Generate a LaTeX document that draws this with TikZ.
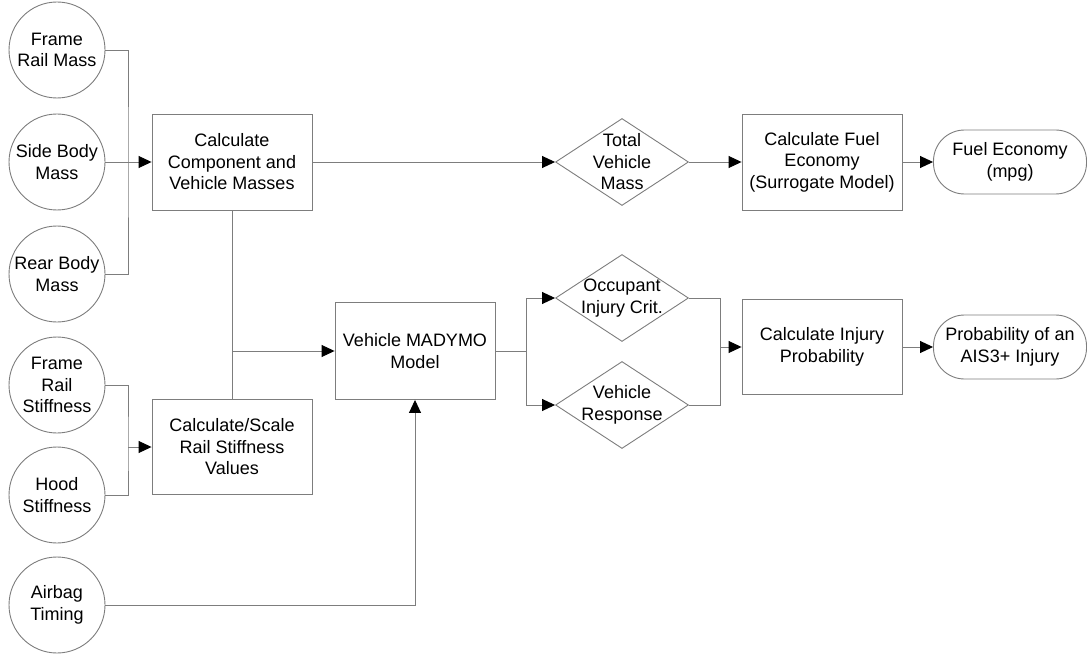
\documentclass[tikz,border=0pt]{standalone}
\usepackage{fontspec}
\setmainfont{Liberation Sans}
\usepackage{tikz}
\usetikzlibrary{arrows.meta,positioning,shapes.geometric}
\definecolor{edgegray}{RGB}{125,125,125}

\begin{document}
\begin{tikzpicture}[x=1pt,y=-1pt,
    txt/.style = {align=center, font=\fontsize{18}{21.5}\selectfont},
    base/.style = {txt, inner sep=0pt, draw=edgegray, line width=0.9pt},
    param/.style = {base, circle, minimum size=96pt},
    calc/.style = {base, rectangle, minimum width=160pt, minimum height=96pt},
    crit/.style = {base, diamond, minimum width=133pt, minimum height=87pt,
        label={[txt]center:{#1}}},
    outp/.style = {base, rectangle, rounded corners=31pt, minimum width=153pt, minimum height=64pt},
    line/.style = {draw=edgegray, line width=0.9pt},
    flow/.style = {line, -{Triangle[length=13pt,width=12pt,color=black]}}]
  \useasboundingbox (0,0) rectangle (1089,655);

  % inputs
  \node [param] (frm) at (57,50) {Frame\\Rail Mass};
  \node [param] (sbm) at (57,162) {Side Body\\Mass};
  \node [param] (rbm) at (57,274) {Rear Body\\Mass};
  \node [param] (frs) at (57,385) {Frame\\Rail\\Stiffness};
  \node [param] (hds) at (57,495) {Hood\\Stiffness};
  \node [param] (abt) at (57,605) {Airbag\\Timing};

  % processes
  \node [calc] (mass) at (232,162) {Calculate\\Component and\\Vehicle Masses};
  \node [calc, minimum height=95pt] (stiff) at (232,447) {Calculate/Scale\\Rail Stiffness\\Values};
  \node [calc, minimum height=97pt] (mady) at (415,351) {Vehicle MADYMO\\Model};
  \node [crit={Total\\Vehicle\\Mass}] (tvm) at (622,162) {};
  \node [calc] (fuel) at (822,162) {Calculate Fuel\\Economy\\(Surrogate Model)};
  \node [outp] (mpg) at (1010,162) {Fuel Economy\\(mpg)};
  \node [crit={Occupant\\Injury Crit.}] (occ) at (622,298) {};
  \node [crit={Vehicle\\Response}] (resp) at (622,405) {};
  \node [calc, minimum height=95pt] (inj) at (822,347) {Calculate Injury\\Probability};
  \node [outp] (ais) at (1010,347) {Probability of an\\AIS3+ Injury};

  % junctions
  \coordinate (mj) at (128,162);
  \coordinate (sj) at (128,447);
  \coordinate (vj) at (mass.south |- mady.west);
  \coordinate (dj) at (526,351);
  \coordinate (ij) at (720,347);

  % connectors
  \draw [line] (frm.east) -| (mj) |- (rbm.east);
  \draw [flow] (sbm.east) -- (mass.west);
  \draw [line] (frs.east) -| (sj) |- (hds.east);
  \draw [flow] (sj) -- (stiff.west);
  \draw [line] (mass.south) -- (stiff.north);
  \draw [flow] (vj) -- (mady.west);
  \draw [flow] (abt.east) -| (mady.south);
  \draw [flow] (mass.east) -- (tvm.west);
  \draw [flow] (tvm.east) -- (fuel.west);
  \draw [flow] (fuel.east) -- (mpg.west);
  \draw [line] (mady.east) -- (dj);
  \draw [flow] (dj) |- (occ.west);
  \draw [flow] (dj) |- (resp.west);
  \draw [line] (occ.east) -| (ij) |- (resp.east);
  \draw [flow] (ij) -- (inj.west);
  \draw [flow] (inj.east) -- (ais.west);
\end{tikzpicture}
\end{document}
